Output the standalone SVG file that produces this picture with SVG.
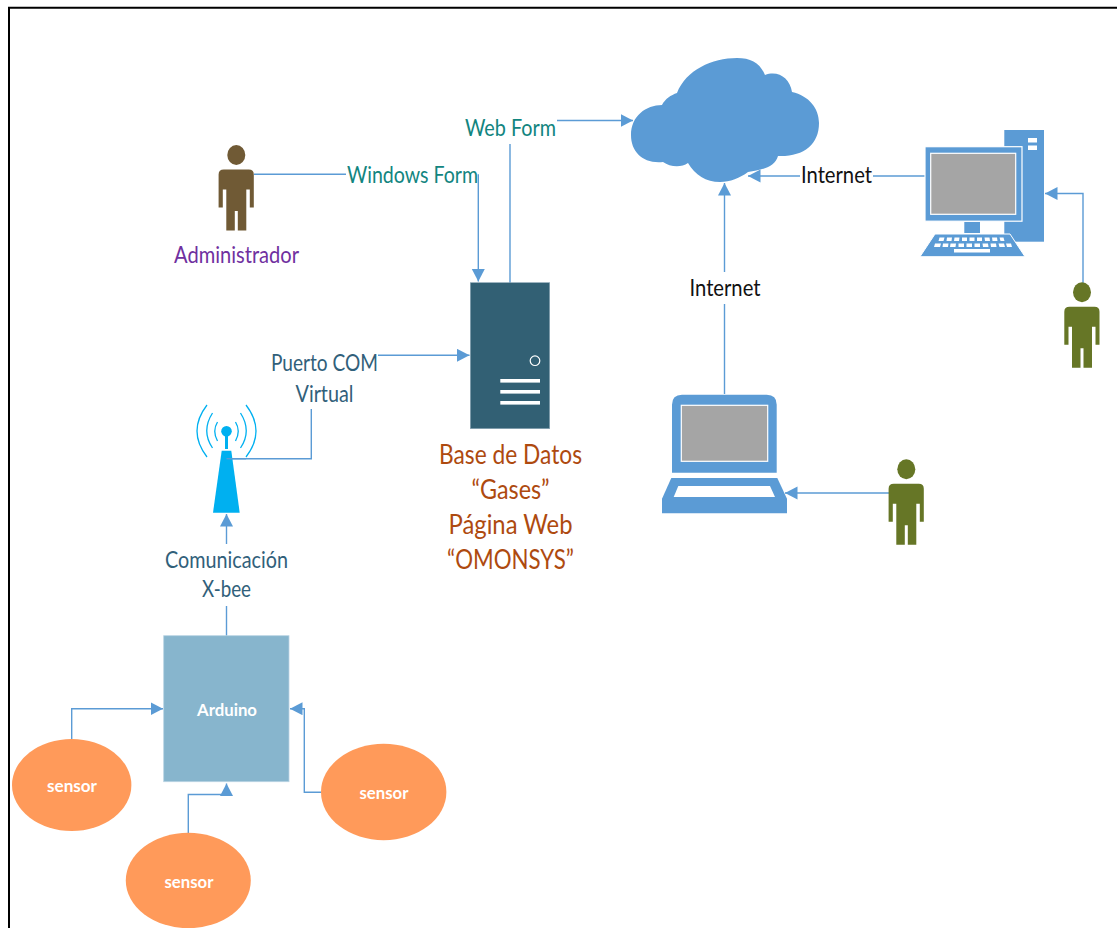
<svg xmlns="http://www.w3.org/2000/svg" width="1117" height="928" viewBox="0 0 1117 928">
<style>
.conn{fill:none;stroke:#5b9bd5;stroke-width:1.4}
.lb{font-family:"Lato","Liberation Sans",sans-serif;text-anchor:middle}
.big{font-size:23px}
.teal{fill:#12857f}.slate{fill:#31607a}.rust{fill:#ae4a0f;font-size:27px}.white{fill:#fff;font-weight:700;font-size:17px}
.blue{fill:#5b9bd5}.screen{fill:#a5a5a5;stroke:#fff;stroke-width:1.2}
.arc{fill:none;stroke:#00b0f0;stroke-width:1.3}
</style>
<defs>
<marker id="ah" markerUnits="userSpaceOnUse" markerWidth="14" markerHeight="14" refX="12.5" refY="6.5" orient="auto"><path d="M0 0L12.5 6.5L0 13Z" fill="#5b9bd5"/></marker>
<g id="person"><ellipse cx="0" cy="0" rx="9" ry="10"/><path d="M-12.5 14.4H12.5Q17.5 14.4 17.5 19.4V52.4H13.5V34.4H10V75.4H1.5V56H-1.5V75.4H-10V34.4H-13.5V52.4H-17.7V19.4Q-17.7 14.4 -12.5 14.4Z"/></g>
</defs>
<rect width="1117" height="928" fill="#fff"/>
<path d="M9 928V7.7H1117" fill="none" stroke="#000" stroke-width="2"/>
<g id="connectors">
<path class="conn" d="M254 174.3H346"/>
<path class="conn" d="M478.3 174.3V281.5" marker-end="url(#ah)"/>
<path class="conn" d="M510 283V144"/>
<path class="conn" d="M557 120.5H633" marker-end="url(#ah)"/>
<path class="conn" d="M378 355.3H469.5" marker-end="url(#ah)"/>
<path class="conn" d="M226.5 458.7H311.3V409"/>
<path class="conn" d="M226.5 544V514" marker-end="url(#ah)"/>
<path class="conn" d="M226.5 636V606"/>
<path class="conn" d="M71.7 739V708.7H163" marker-end="url(#ah)"/>
<path class="conn" d="M188.3 833V794.5H226.5V783.5" marker-end="url(#ah)"/>
<path class="conn" d="M321 792.3H304.3V708.7H290" marker-end="url(#ah)"/>
<path class="conn" d="M925 176H873"/>
<path class="conn" d="M800 176H748" marker-end="url(#ah)"/>
<path class="conn" d="M724.5 394V304"/>
<path class="conn" d="M724.5 272V183" marker-end="url(#ah)"/>
<path class="conn" d="M889 493H785" marker-end="url(#ah)"/>
<path class="conn" d="M1083 283V193.5H1045" marker-end="url(#ah)"/>
</g>
<g id="cloud"><path class="blue" d="M663 162C643 164 631 152 631 135C631 116 646 105 662 105C665 99 671 95 677 93C686 70 712 58 737 58C751 58 760 63 765 75C778 70 790 78 792 92C809 96 819 108 819 123C819 145 803 157 778 156C775 167 762 170 748 172C740 178 730 182 720 182C706 182 695 175 688 163C681 168 670 167 663 162Z"/></g>
<g id="desktop">
<rect class="blue" x="1004.3" y="130" width="39.7" height="111.7"/>
<rect x="1028" y="138" width="9" height="4.5" fill="#fff"/><rect x="1028" y="145.5" width="9" height="4.5" fill="#fff"/>
<rect class="blue" x="925" y="146.7" width="97" height="74.5" stroke="#fff" stroke-width="1.2"/>
<rect class="screen" x="930.7" y="153.3" width="85" height="61"/>
<rect class="blue" x="964.3" y="222" width="15.7" height="11"/>
<path class="blue" d="M935 234H1010L1025 256.7H920Z" stroke="#fff" stroke-width="1"/>
<g fill="#fff">
<path d="M939.5 237.5h5l-1 3.5h-5ZM947 237.5h5l-.5 3.5h-5ZM954.5 237.5h5l-.5 3.5h-5ZM962 237.5h5v3.5h-5ZM969.5 237.5h5v3.5h-5ZM977 237.5h5v3.5h-5ZM984.5 237.5h5l.5 3.5h-5ZM992 237.5h5l.5 3.5h-5ZM999.5 237.5h4l1 3.5h-4Z"/>
<path d="M935 243.5h6l-1 3.5h-6ZM943 243.5h5.5l-.5 3.5h-5.5ZM950.5 243.5h5.5l-.5 3.5h-5.5ZM958.5 243.5h5.5v3.5h-5.5ZM966.5 243.5h5.5v3.5h-5.5ZM974.5 243.5h5.5v3.5h-5.5ZM982.5 243.5h5.5l.5 3.5h-5.5ZM990.5 243.5h5.5l.5 3.5h-5.5ZM998.5 243.5h5.5l1 3.5h-5.5ZM1006 243.5h5l1 3.5h-5Z"/>
<rect x="954" y="249" width="36" height="3.5"/>
</g>
</g>
<g id="laptop">
<path class="blue" d="M672 472.7V404.7Q672 394.7 682 394.7H766.7Q776.7 394.7 776.7 404.7V472.7Z"/>
<rect class="screen" x="681.3" y="405.3" width="86.4" height="56"/>
<path class="blue" d="M671.3 478H777.3L787 498.7V513.3H662V498.7Z"/>
<path d="M678.3 486H770L775 497H673.7Z" fill="#fff"/>
</g>
<g id="server">
<rect x="470.3" y="282.7" width="79.4" height="146" fill="#326074" stroke="#8aa5b5" stroke-width=".6"/>
<circle cx="535" cy="360.7" r="4.8" fill="none" stroke="#fff" stroke-width="1.2"/>
<g fill="#fff"><rect x="500.3" y="379" width="39.7" height="3.6"/><rect x="500.3" y="390" width="39.7" height="3.6"/><rect x="500.3" y="401" width="39.7" height="3.6"/></g>
</g>
<g id="antenna">
<path d="M221.7 450.7H231.3L239.7 512.7H213Z" fill="#00b0f0"/>
<circle cx="226.5" cy="431.3" r="5.3" fill="#00b0f0"/><rect x="225" y="431" width="3" height="18" fill="#00b0f0"/>
<path class="arc" d="M207 405Q187 431 207 457M212.5 413Q201 431 212.5 448M217.5 422Q212 431 217.5 441M246 405Q266 431 246 457M240.5 413Q252 431 240.5 448M235.5 422Q241 431 235.5 441"/>
<path class="conn" d="M226.5 458.7H246"/>
</g>
<g id="arduino"><rect x="163.7" y="635.7" width="125.3" height="146" fill="#87b5cd" stroke="#b9d3e3" stroke-width=".8"/><text class="lb white" x="227" y="716" textLength="60" lengthAdjust="spacingAndGlyphs">Arduino</text></g>
<g id="sensor1"><ellipse cx="71.7" cy="785" rx="59.7" ry="46" fill="#ff9a5a"/><text class="lb white" x="72" y="792" textLength="50" lengthAdjust="spacingAndGlyphs">sensor</text></g>
<g id="sensor2"><ellipse cx="188.3" cy="880.5" rx="62.5" ry="47.7" fill="#ff9a5a"/><text class="lb white" x="189" y="888" textLength="49" lengthAdjust="spacingAndGlyphs">sensor</text></g>
<g id="sensor3"><ellipse cx="383.7" cy="792" rx="62.7" ry="48.2" fill="#ff9a5a"/><text class="lb white" x="384" y="799" textLength="49" lengthAdjust="spacingAndGlyphs">sensor</text></g>
<g id="admin"><use href="#person" x="236.3" y="155" fill="#705a35"/><text class="lb big" x="236.5" y="263" fill="#7030a0" textLength="125" lengthAdjust="spacingAndGlyphs">Administrador</text></g>
<use id="user1" href="#person" x="1082" y="292.3" fill="#667626"/>
<use id="user2" href="#person" x="906.3" y="469.3" fill="#667626"/>
<g id="labels">
<text class="lb big teal" x="412.5" y="183" textLength="131" lengthAdjust="spacingAndGlyphs">Windows Form</text>
<text class="lb big teal" x="510.5" y="136" textLength="91" lengthAdjust="spacingAndGlyphs">Web Form</text>
<text class="lb big" x="836.5" y="183" fill="#111" textLength="71" lengthAdjust="spacingAndGlyphs">Internet</text>
<text class="lb big" x="725" y="296" fill="#111" textLength="71" lengthAdjust="spacingAndGlyphs">Internet</text>
<text class="lb big slate" x="324.5" y="371" textLength="107" lengthAdjust="spacingAndGlyphs">Puerto COM</text>
<text class="lb big slate" x="324.5" y="402" textLength="58" lengthAdjust="spacingAndGlyphs">Virtual</text>
<text class="lb big slate" x="226.5" y="568" textLength="123" lengthAdjust="spacingAndGlyphs">Comunicación</text>
<text class="lb big slate" x="226.5" y="597" textLength="49" lengthAdjust="spacingAndGlyphs">X-bee</text>
<text class="lb rust" x="510.5" y="464" textLength="143" lengthAdjust="spacingAndGlyphs">Base de Datos</text>
<text class="lb rust" x="510.5" y="499" textLength="78" lengthAdjust="spacingAndGlyphs">“Gases”</text>
<text class="lb rust" x="510.5" y="534" textLength="124" lengthAdjust="spacingAndGlyphs">Página Web</text>
<text class="lb rust" x="510.5" y="569" textLength="127" lengthAdjust="spacingAndGlyphs">“OMONSYS”</text>
</g>
</svg>
